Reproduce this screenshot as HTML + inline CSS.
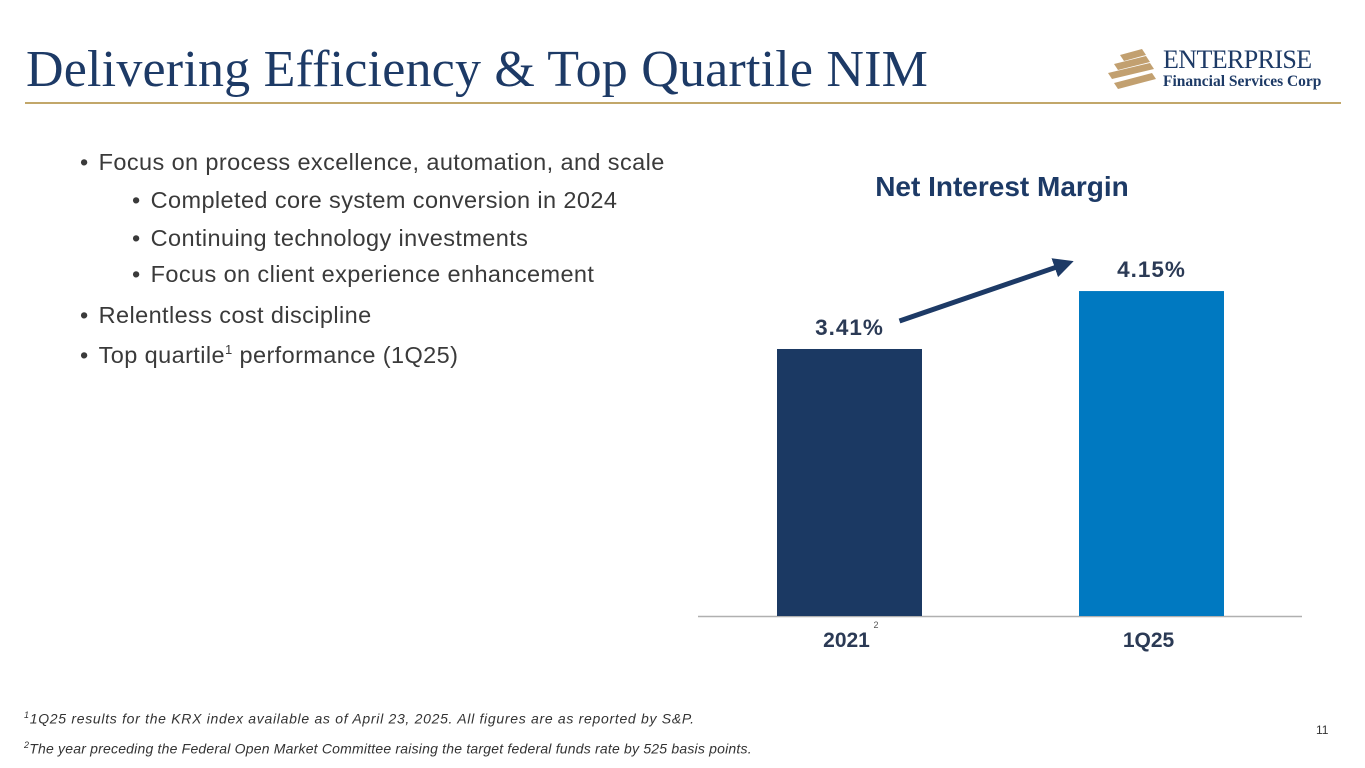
<!DOCTYPE html>
<html><head><meta charset="utf-8"><style>
body{margin:0;width:1365px;height:768px;background:#fff;position:relative;overflow:hidden;font-family:"Liberation Sans",sans-serif}
.abs{position:absolute;white-space:nowrap}
#title{left:26px;top:40px;font-family:"Liberation Serif",serif;font-size:52px;color:#1d3a66;letter-spacing:0.2px}
.b{font-size:23.5px;color:#3a3a3a;letter-spacing:0.4px}
.b:before{content:"•";margin-right:10px}
.fn{font-size:14px;font-style:italic;color:#333;letter-spacing:0.2px}
</style></head><body>
<div class="abs" id="title">Delivering Efficiency &amp; Top Quartile NIM</div>
<div class="abs" style="left:25px;top:102px;width:1316px;height:2px;background:#c2a76a"></div>
<div class="abs" style="left:1106px;top:47px;width:240px;height:50px">
<svg width="56" height="50" style="position:absolute;left:0;top:0">
<g fill="#c2a070"><polygon points="14,8 36,2 40,8 18,14"/><polygon points="8,17 40,9 44,15 12,23"/><polygon points="2,26 44,16 48,22 6,32"/><polygon points="8,36 46,26 50,32 12,42"/></g></svg>
<div class="abs" style="left:57px;top:-2px;font-family:'Liberation Serif',serif;font-size:26px;color:#1d3a66;letter-spacing:-0.6px">ENTERPRISE</div>
<div class="abs" style="left:57px;top:26px;font-family:'Liberation Serif',serif;font-size:15.5px;font-weight:bold;color:#1d3a66">Financial Services Corp</div>
</div>
<div class="abs b" style="left:80px;top:149px">Focus on process excellence, automation, and scale</div>
<div class="abs b" style="left:132px;top:187px">Completed core system conversion in 2024</div>
<div class="abs b" style="left:132px;top:225px">Continuing technology investments</div>
<div class="abs b" style="left:132px;top:261px">Focus on client experience enhancement</div>
<div class="abs b" style="left:80px;top:302px">Relentless cost discipline</div>
<div class="abs b" style="left:80px;top:342px">Top quartile<sup style="font-size:13px">1</sup> performance (1Q25)</div>
<div class="abs fn" style="left:24px;top:710px;letter-spacing:0.7px"><sup style="font-size:9px">1</sup>1Q25 results for the KRX index available as of April 23, 2025. All figures are as reported by S&amp;P.</div>
<div class="abs fn" style="left:24px;top:740px"><sup style="font-size:9px">2</sup>The year preceding the Federal Open Market Committee raising the target federal funds rate by 525 basis points.</div>
<div class="abs" style="left:1316px;top:723px;font-size:12px;color:#333">11</div>
<svg id="chart" class="abs" style="left:0;top:0" width="1365" height="768">
<text x="1002" y="196" text-anchor="middle" font-size="28" font-weight="bold" fill="#1d3a66" font-family="Liberation Sans">Net Interest Margin</text>
<defs><marker id="ah" markerWidth="4" markerHeight="4" refX="1" refY="2" orient="auto" markerUnits="strokeWidth"><polygon points="0,0 4,2 0,4" fill="#1d3a66"/></marker></defs>
</svg>
<script>
const categories=["2021","1Q25"];
const values=[3.41,4.15];
const labels=["3.41%","4.15%"];
const colors=["#1b3963","#0079c1"];
const svg=document.getElementById('chart');
const NS='http://www.w3.org/2000/svg';
const base=616, scale=78.3;
const y=v=>base-v*scale;
const xc=i=>849.5+i*302;
const bw=145;
function mk(t,a){const e=document.createElementNS(NS,t);for(const k in a)e.setAttribute(k,a[k]);svg.appendChild(e);return e;}
const ax=mk('line',{x1:698,x2:1302,y1:base+0.5,y2:base+0.5,stroke:'#b0b0b0','stroke-width':1.5});


values.forEach((v,i)=>{
 const r=mk('rect',{x:xc(i)-bw/2,y:y(v),width:bw,height:base-y(v),fill:colors[i]});
 
 
 const t=mk('text',{x:xc(i),y:y(v)-14,'text-anchor':'middle','font-size':22.5,'font-weight':'bold',fill:'#2b3a55','font-family':'Liberation Sans','letter-spacing':1});
 t.textContent=labels[i];
 
 
 const c=mk('text',{x:xc(i)-3,y:base+31,'text-anchor':'middle','font-size':21,'font-weight':'bold',fill:'#2b3a55','font-family':'Liberation Sans'});
 c.textContent=categories[i];
 
 
});
const s=mk('text',{x:xc(0)+24,y:base+12,'font-size':9,fill:'#555','font-family':'Liberation Sans'});s.textContent='2';


const a=mk('line',{x1:xc(0)+50,y1:y(values[0])-28,x2:xc(1)-92,y2:y(values[1])-25,stroke:'#1d3a66','stroke-width':5,'marker-end':'url(#ah)'});


</script>
</body></html>
